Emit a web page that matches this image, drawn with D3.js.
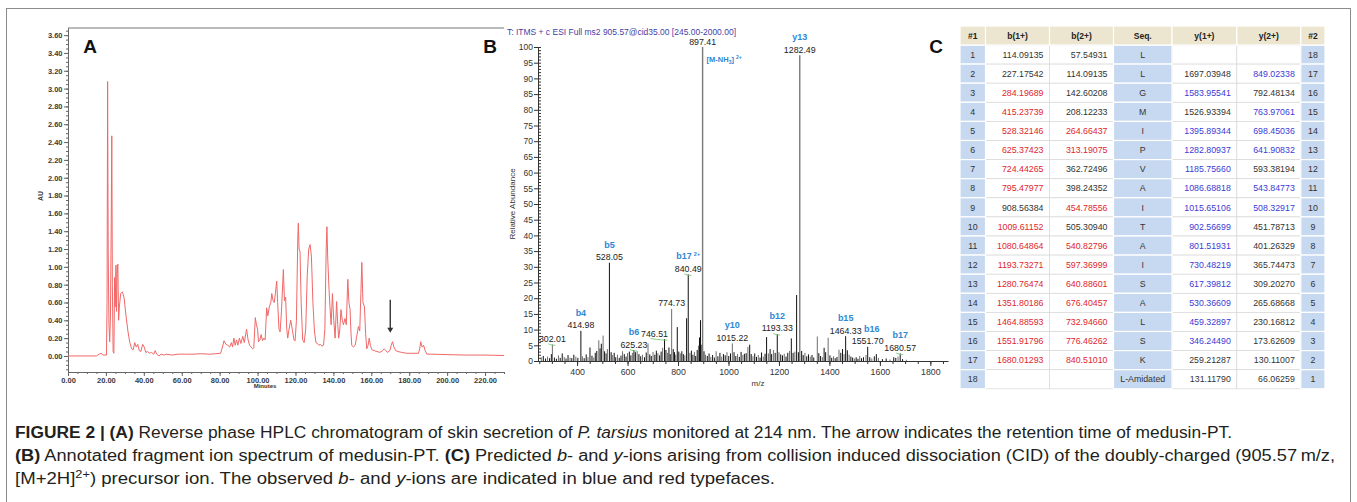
<!DOCTYPE html>
<html>
<head>
<meta charset="utf-8">
<script src="https://cdn.jsdelivr.net/npm/d3@7"></script>
<style>
  html, body { margin: 0; padding: 0; background: #fff; }
  svg { display: block; font-family: "Liberation Sans", Arial, sans-serif; }
</style>
</head>
<body>
<svg id="fig" width="1357" height="502"></svg>
<script>
// ---- Panel A : HPLC chromatogram (minutes, AU) ----
const chromTime = [0, 10, 15, 16.5, 17.5, 18.5, 20.3, 20.6, 20.9, 21.2, 21.6, 22.0, 22.4, 22.8, 23.1, 23.4, 23.8, 24.2,
  24.6, 24.9, 25.3, 25.6, 25.9, 26.3, 26.7, 27.1, 27.8, 28.7, 29.6, 30.6, 31.6, 32.6, 33.6, 34.4, 35.2, 36.0, 36.8,
  37.6, 38.4, 39.4, 40.2, 41.0, 42.0, 43.0, 44.0, 45.2, 46.0, 46.8, 48.0, 49.0, 50.5, 52, 55, 58, 62, 66, 70, 75, 78,
  80.5, 81.5, 82.3, 83.3, 84.3, 85.3, 86.2, 86.8, 87.5, 88.2, 88.9, 89.6, 90.4, 91.2, 92.2, 93.0, 94.2, 95.0, 95.8,
  96.6, 97.4, 98.0, 98.8, 99.4, 100.0, 100.5, 101.2, 101.9, 102.6, 103.3, 104.0, 104.8, 105.4, 106.2, 107.0, 107.5,
  108.2, 108.8, 109.4, 110.1, 110.6, 111.3, 111.9, 112.6, 113.6, 114.2, 114.8, 115.4, 115.9, 116.6, 117.5, 118.3,
  119.2, 119.8, 120.5, 121.2, 121.5, 121.9, 122.4, 123.0, 123.8, 124.6, 125.4, 126.2, 127.0, 127.7, 128.4, 129.2,
  130.0, 130.8, 131.6, 132.4, 133.2, 134.0, 134.8, 135.5, 136.2, 136.6, 137.0, 137.7, 138.2, 138.8, 139.5, 140.2,
  140.9, 141.7, 142.3, 142.8, 143.4, 144.0, 144.7, 145.3, 146.1, 146.8, 147.6, 148.2, 148.8, 149.3, 149.7, 150.5,
  151.5, 152.3, 153.2, 153.9, 154.5, 155.0, 155.6, 156.4, 157.0, 157.6, 158.3, 158.9, 159.5, 160.3, 161.5, 163.0,
  164.5, 166.0, 166.8, 167.6, 168.6, 169.8, 170.5, 171.2, 171.9, 172.9, 174, 176, 178.7, 181, 183, 184.9, 185.5,
  186.1, 186.8, 187.6, 188.4, 189.3, 192, 200, 210, 220, 230];
const chromAU = [0, 0, 0, 0.02, 0.03, 0.01, 0.01, 0.6, 3.08, 1.2, 0.35, 0.16, 0.45, 1.5, 2.47, 0.8, 0.05, 0.03,
  0.88, 0.55, 1.02, 0.5, 0.92, 1.03, 0.4, 0.55, 0.7, 0.72, 0.65, 0.45, 0.28, 0.15, 0.08, 0.07, 0.15, 0.1, 0.13,
  0.06, 0.05, 0.13, 0.1, 0.04, 0.05, 0.03, 0.04, 0.02, 0.06, 0.02, 0.0, 0.02, 0.01, 0.02, 0.01, 0.02, 0.02, 0.02, 0.025, 0.02, 0.025,
  0.03, 0.1, 0.17, 0.13, 0.12, 0.1, 0.15, 0.1, 0.2, 0.12, 0.18, 0.12, 0.2, 0.14, 0.22, 0.15, 0.3, 0.18, 0.12,
  0.1, 0.08, 0.09, 0.43, 0.35, 0.3, 0.16, 0.18, 0.24, 0.17, 0.2, 0.18, 0.54, 0.45, 0.55, 0.6, 0.7,
  0.62, 0.6, 0.7, 0.84, 0.6, 0.3, 0.27, 0.5, 0.97, 0.62, 0.66, 0.3, 0.2, 0.3, 0.4, 0.3,
  0.18, 0.17, 0.4, 1.3, 1.49, 1.2, 1.17, 0.6, 0.18, 0.15, 0.3, 0.9, 1.2, 1.25, 1.12, 0.6,
  0.28, 0.15, 0.14, 0.12, 0.13, 0.11, 0.12, 0.3, 1.2, 1.45, 1.1, 0.75, 0.55, 0.35, 0.7, 0.4,
  0.2, 0.61, 0.35, 0.2, 0.3, 0.52, 0.4, 0.35, 0.42, 0.35, 0.86, 0.6, 0.52, 0.25, 0.12, 0.1,
  0.12, 0.22, 0.33, 0.28, 0.7, 1.05, 0.6, 0.55, 0.25, 0.08, 0.12, 0.2, 0.12, 0.07, 0.06, 0.05,
  0.04, 0.06, 0.08, 0.06, 0.04, 0.06, 0.12, 0.16, 0.1, 0.06, 0.05, 0.04, 0.03, 0.03, 0.03, 0.03, 0.08,
  0.16, 0.1, 0.12, 0.06, 0.02, 0.02, 0.015, 0.01, 0.01, 0.005];
const chromYTicks = d3.range(0, 3.601, 0.2);
const chromXTicks = d3.range(0, 220.1, 20);
const arrowTime = 170, arrowFrom = 0.63, arrowTo = 0.26;

// ---- Panel B : MS/MS spectrum (m/z, relative abundance) ----
const peakMz = [258, 266, 275, 283, 291, 298, 302.01, 310, 318, 326, 333, 341, 349, 356, 364, 372, 379, 387, 395, 403,
  414.98, 421, 428, 436, 443, 451, 459, 466, 472, 478, 486, 491, 496, 503, 509, 515, 520, 528.05, 535, 541, 547, 553,
  560, 567, 574, 580, 587, 594, 600, 607, 613, 619, 625.23, 631, 638, 645, 652, 659, 667, 674, 681, 688, 694, 701, 708,
  714, 720, 727, 733, 739, 746.51, 752, 758, 764, 769, 774.73, 781, 786, 791, 797, 803, 809, 815, 821, 827, 834, 840.49,
  847, 853, 859, 865, 870, 876, 881, 885, 889, 893, 897.41, 903, 909, 916, 923, 930, 937, 944, 951, 958, 966, 973, 980,
  987, 994, 1001, 1008, 1015.22, 1022, 1029, 1036, 1043, 1050, 1057, 1063, 1070, 1077, 1084, 1090, 1097, 1104, 1111,
  1118, 1125, 1131, 1138, 1145, 1151, 1158, 1165, 1171, 1178, 1185, 1193.33, 1200, 1207, 1214, 1221, 1228, 1235, 1242,
  1249, 1256, 1263, 1270, 1277, 1282.49, 1290, 1296, 1303, 1310, 1317, 1324, 1331, 1338, 1352, 1358, 1365, 1372, 1379,
  1385, 1395, 1402, 1409, 1416, 1423, 1430, 1438, 1445, 1452, 1458, 1464.33, 1471, 1478, 1485, 1492, 1499, 1506, 1513,
  1520, 1527, 1535, 1545, 1551.70, 1560, 1568, 1578, 1586, 1594, 1610, 1625, 1640, 1655, 1663, 1672, 1680.57, 1690, 1705];
const peakInt = [1.2, 1.6, 0.8, 1.4, 0.9, 2.2, 5.3, 1.1, 0.7, 1.8, 1.0, 2.4, 1.3, 0.8, 1.9, 1.1, 0.9, 2.0, 1.4, 1.0,
  9.6, 1.5, 0.9, 2.1, 1.2, 4.3, 1.7, 1.1, 2.6, 3.2, 6.6, 4.0, 5.5, 8.1, 3.1, 2.4, 3.8, 31.3, 2.8, 1.9, 2.6, 1.2,
  2.0, 1.0, 1.7, 3.1, 2.2, 1.4, 2.5, 3.0, 1.8, 2.6, 3.5, 2.8, 3.1, 2.2, 1.5, 2.0, 1.2, 2.7, 5.6, 2.1, 1.6, 2.9, 2.0,
  3.3, 2.5, 1.8, 3.0, 4.2, 7.0, 3.5, 2.6, 4.3, 2.2, 16.6, 3.8, 2.8, 2.0, 10.8, 3.0, 2.4, 3.1, 2.2, 1.8, 13.6, 27.6,
  2.6, 3.3, 2.0, 2.9, 1.6, 3.5, 4.9, 7.5, 13.0, 5.2, 100, 3.1, 2.0, 1.6, 2.4, 1.3, 1.9, 1.1, 3.1, 1.5, 2.6, 1.4, 2.2,
  1.8, 2.8, 1.6, 2.4, 5.6, 2.8, 1.6, 2.2, 1.3, 2.9, 1.9, 2.3, 2.5, 4.5, 5.2, 2.2, 1.5, 2.4, 1.3,
  1.9, 1.1, 2.7, 1.4, 2.3, 7.6, 2.4, 3.8, 2.2, 3.5, 2.6, 8.6, 2.8, 2.1, 1.8, 2.3, 1.4, 2.6, 3.2,
  7.2, 2.6, 3.0, 21.0, 2.8, 97.4, 3.2, 1.9, 2.6, 1.5, 2.1, 1.4, 1.9, 1.1, 7.8, 2.5, 1.6, 1.2, 4.2,
  2.8, 7.4, 1.8, 1.0, 1.5, 0.9, 1.3, 3.6, 2.6, 3.8, 2.2, 7.9, 3.4, 2.0, 1.4, 1.1, 0.8, 1.2, 0.7,
  1.6, 0.9, 1.2, 1.9, 4.5, 1.2, 0.8, 1.5, 2.2, 1.0, 0.6, 0.8, 0.5, 1.2, 1.0, 1.4, 2.4, 0.6, 0.4];
const labelMz   = [302.01, 414.98, 528.05, 625.23, 746.51, 774.73, 840.49, 897.41, 1015.22, 1193.33, 1282.49, 1464.33, 1551.70, 1680.57];
const labelText = ["302.01", "414.98", "528.05", "625.23", "746.51", "774.73", "840.49", "897.41", "1015.22", "1193.33", "1282.49", "1464.33", "1551.70", "1680.57"];
const labelIon  = ["", "b4", "b5", "b6", "", "", "b17", "", "y10", "b12", "y13", "b15", "b16", "b17"];
const labelIonSup = ["", "", "", "", "", "", "2+", "", "", "", "", "", "", ""];
const specYTicks = d3.range(0, 100.1, 5);
const specXTicks = d3.range(400, 1800.1, 200);

// ---- Panel C : predicted fragment ions ----
const tableHead = ["#1", "b(1+)", "b(2+)", "Seq.", "y(1+)", "y(2+)", "#2"];
const bSingle = ["114.09135", "227.17542", "284.19689", "415.23739", "528.32146", "625.37423", "724.44265", "795.47977",
  "908.56384", "1009.61152", "1080.64864", "1193.73271", "1280.76474", "1351.80186", "1464.88593", "1551.91796", "1680.01293", ""];
const bDouble = ["57.54931", "114.09135", "142.60208", "208.12233", "264.66437", "313.19075", "362.72496", "398.24352",
  "454.78556", "505.30940", "540.82796", "597.36999", "640.88601", "676.40457", "732.94660", "776.46262", "840.51010", ""];
const sequence = ["L", "L", "G", "M", "I", "P", "V", "A", "I", "T", "A", "I", "S", "A", "L", "S", "K", "L-Amidated"];
const ySingle = ["", "1697.03948", "1583.95541", "1526.93394", "1395.89344", "1282.80937", "1185.75660", "1086.68818",
  "1015.65106", "902.56699", "801.51931", "730.48219", "617.39812", "530.36609", "459.32897", "346.24490", "259.21287", "131.11790"];
const yDouble = ["", "849.02338", "792.48134", "763.97061", "698.45036", "641.90832", "593.38194", "543.84773",
  "508.32917", "451.78713", "401.26329", "365.74473", "309.20270", "265.68668", "230.16812", "173.62609", "130.11007", "66.06259"];
// rows (1-based) whose ion was observed
const bSingleSeen = [3, 4, 5, 6, 7, 8, 10, 11, 12, 13, 14, 15, 16, 17];
const bDoubleSeen = [5, 6, 9, 11, 12, 13, 14, 15, 16, 17];
const ySingleSeen = [3, 5, 6, 7, 8, 9, 10, 11, 12, 13, 14, 15, 16];
const yDoubleSeen = [2, 4, 5, 6, 8, 9];

const svg = d3.select("#fig");
const font = "'Liberation Sans', Arial, sans-serif";

// cadre
svg.append("rect").attr("x", 6.5).attr("y", 8.5).attr("width", 1344).attr("height", 520)
  .attr("fill", "none").attr("stroke", "#8c8c8c").attr("stroke-width", 1);

// ================= A =================
const xA = d3.scaleLinear().domain([0, 230]).range([68, 504]);
const yA = d3.scaleLinear().domain([-0.18, 3.68]).range([372, 28]);
const gA = svg.append("g");

gA.append("line").attr("x1", 68).attr("x2", 504).attr("y1", 28).attr("y2", 28).attr("stroke", "#777");

gA.append("g").attr("transform", "translate(68,0)")
  .call(d3.axisLeft(yA).tickValues(d3.range(-0.15, 3.67, 0.05)).tickSize(2).tickSizeOuter(0).tickFormat(""))
  .call(g => g.selectAll("line,path").attr("stroke", "#666"));
gA.append("g").attr("transform", "translate(68,0)")
  .call(d3.axisLeft(yA).tickValues(chromYTicks).tickFormat(d3.format(".2f")).tickSize(4).tickSizeOuter(0).tickPadding(1.5))
  .call(g => g.selectAll("line,path").attr("stroke", "#666"))
  .call(g => g.selectAll("text").attr("font-family", font).attr("font-size", 7.5).attr("font-weight", "bold").attr("fill", "#3a3a3a"));

gA.append("g").attr("transform", "translate(0,372)")
  .call(d3.axisBottom(xA).tickValues(d3.range(0, 230.1, 5)).tickSize(2).tickSizeOuter(0).tickFormat(""))
  .call(g => g.selectAll("line,path").attr("stroke", "#666"));
gA.append("g").attr("transform", "translate(0,372)")
  .call(d3.axisBottom(xA).tickValues(chromXTicks).tickFormat(d3.format(".2f")).tickSize(4).tickSizeOuter(0).tickPadding(2))
  .call(g => g.selectAll("line,path").attr("stroke", "#666"))
  .call(g => g.selectAll("text").attr("font-family", font).attr("font-size", 7.5).attr("font-weight", "bold").attr("fill", "#3a3a3a"));

gA.append("text").attr("x", 265).attr("y", 388).attr("text-anchor", "middle")
  .attr("font-family", font).attr("font-size", 6).attr("font-weight", "bold").attr("fill", "#333").text("Minutes");
gA.append("text").attr("transform", "translate(43,196) rotate(-90)").attr("text-anchor", "middle")
  .attr("font-family", font).attr("font-size", 7).attr("font-weight", "bold").attr("fill", "#333").text("AU");

const chromLine = d3.line().x(d => xA(d[0])).y(d => yA(d[1]));
gA.append("path").datum(chromTime.map((t, i) => [t, chromAU[i]]))
  .attr("d", chromLine).attr("fill", "none").attr("stroke", "#f06868").attr("stroke-width", 1)
  .attr("stroke-linejoin", "round");

// fleche
const ax = xA(arrowTime);
gA.append("line").attr("x1", ax).attr("x2", ax).attr("y1", yA(arrowFrom)).attr("y2", yA(arrowTo) - 4)
  .attr("stroke", "#333").attr("stroke-width", 1.4);
gA.append("path").attr("d", `M${ax - 3},${yA(arrowTo) - 5}L${ax + 3},${yA(arrowTo) - 5}L${ax},${yA(arrowTo)}Z`).attr("fill", "#333");

// lettres de panneaux
[["A", 90], ["B", 490], ["C", 936]].forEach(([t, x]) => {
  svg.append("text").attr("x", x).attr("y", 53).attr("text-anchor", "middle")
    .attr("font-family", font).attr("font-size", 19).attr("font-weight", "bold").attr("fill", "#111").text(t);
});

// ================= B =================
const xB = d3.scaleLinear().domain([245, 1870]).range([538, 948]);
const yB = d3.scaleLinear().domain([0, 100]).range([361, 47]);
const gB = svg.append("g");

gB.append("text").attr("x", 507).attr("y", 35).attr("font-family", font).attr("font-size", 8.5)
  .attr("fill", "#3f3fa6").attr("textLength", 229).attr("lengthAdjust", "spacingAndGlyphs")
  .text("T: ITMS + c ESI Full ms2 905.57@cid35.00 [245.00-2000.00]");

gB.append("g").attr("transform", "translate(538,0)")
  .call(d3.axisRight(yB).tickValues(d3.range(0, 100.1, 1)).tickSize(3).tickSizeOuter(0).tickFormat(""))
  .call(g => g.selectAll("line,path").attr("stroke", "#333"));
gB.append("g").attr("transform", "translate(538,0)")
  .call(d3.axisLeft(yB).tickValues(specYTicks).tickSize(4).tickSizeOuter(0).tickPadding(1))
  .call(g => g.select(".domain").remove())
  .call(g => g.selectAll("line").attr("stroke", "#333"))
  .call(g => g.selectAll("text").attr("font-family", font).attr("font-size", 8.5).attr("fill", "#333"));

gB.append("g").attr("transform", "translate(0,361)")
  .call(d3.axisBottom(xB).tickValues(d3.range(250, 1870, 50)).tickSize(3).tickSizeOuter(0).tickFormat(""))
  .call(g => g.selectAll("line,path").attr("stroke", "#333"));
gB.append("g").attr("transform", "translate(0,361)")
  .call(d3.axisBottom(xB).tickValues(specXTicks).tickFormat(d3.format("d")).tickSize(5).tickSizeOuter(0).tickPadding(3))
  .call(g => g.select(".domain").remove())
  .call(g => g.selectAll("line").attr("stroke", "#333"))
  .call(g => g.selectAll("text").attr("font-family", font).attr("font-size", 8.8).attr("fill", "#333"));

gB.append("text").attr("x", 758).attr("y", 386).attr("text-anchor", "middle")
  .attr("font-family", font).attr("font-size", 8).attr("fill", "#333").text("m/z");
gB.append("text").attr("transform", "translate(515,204) rotate(-90)").attr("text-anchor", "middle")
  .attr("font-family", font).attr("font-size", 8).attr("fill", "#333").text("Relative Abundance");

const peaks = peakMz.map((m, i) => ({ mz: m, h: peakInt[i], i }));
gB.selectAll("line.peak").data(peaks).join("line").attr("class", "peak")
  .attr("x1", d => xB(d.mz)).attr("x2", d => xB(d.mz))
  .attr("y1", yB(0)).attr("y2", d => yB(d.h))
  .attr("stroke", d => d.h > 50 ? "#7a7a7a" : (d.i % 3 === 0 ? "#6e6e6e" : "#111"))
  .attr("stroke-width", d => d.h > 50 ? 1.4 : 1);

const heightOf = m => peakInt[peakMz.indexOf(m)];
const nudge = { "746.51": -10 };
const ionNudge = { "b16": 4 };
const greenTicks = ["302.01", "625.23", "746.51", "840.49", "1193.33", "1680.57"];
labelMz.forEach((m, i) => {
  const px = xB(m), top = yB(heightOf(m));
  const lx = px + (nudge[labelText[i]] || 0);
  const base = top - 2.5;
  gB.append("text").attr("x", lx).attr("y", base).attr("text-anchor", "middle")
    .attr("font-family", font).attr("font-size", 8.8).attr("fill", "#222").text(labelText[i]);
  if (greenTicks.includes(labelText[i])) {
    gB.append("path").attr("d", `M${lx - 4},${base + 2}Q${px},${base + 4} ${px + 3},${top + 1}`)
      .attr("fill", "none").attr("stroke", "#79c879").attr("stroke-width", 0.9);
  }
  if (labelIon[i]) {
    const t = gB.append("text").attr("x", lx + (ionNudge[labelIon[i]] || 0)).attr("y", base - 12.5).attr("text-anchor", "middle")
      .attr("font-family", font).attr("font-size", 9).attr("font-weight", "bold").attr("fill", "#2f87d4");
    t.append("tspan").text(labelIon[i]);
    if (labelIonSup[i]) t.append("tspan").attr("dx", 2).attr("dy", -3).attr("font-size", 5.5).text(labelIonSup[i]);
  }
});
// [M-NH3]2+
const mn = gB.append("text").attr("x", xB(897.41) + 4).attr("y", 62)
  .attr("font-family", font).attr("font-size", 7.5).attr("font-weight", "bold").attr("fill", "#2f87d4");
mn.append("tspan").text("[M-NH");
mn.append("tspan").attr("dy", 2).attr("font-size", 5).text("3");
mn.append("tspan").attr("dy", -2).text("]");
mn.append("tspan").attr("dx", 2).attr("dy", -3).attr("font-size", 5).text("2+");

// ================= C =================
const colX = [960, 985.5, 1049.5, 1113.5, 1172, 1236.8, 1300.8, 1325];
const headTop = 26, rowTop = 45, rowH = 19.1;
const gC = svg.append("g");
const blueCol = [0, 3, 6];
const cols = [
  { vals: d3.range(1, 19).map(String), seen: [], anchor: "middle" },
  { vals: bSingle, seen: bSingleSeen, color: "#e0262c", anchor: "end" },
  { vals: bDouble, seen: bDoubleSeen, color: "#e0262c", anchor: "end" },
  { vals: sequence, seen: [], anchor: "middle" },
  { vals: ySingle, seen: ySingleSeen, color: "#3b3bd6", anchor: "end" },
  { vals: yDouble, seen: yDoubleSeen, color: "#3b3bd6", anchor: "end" },
  { vals: d3.range(18, 0, -1).map(String), seen: [], anchor: "middle" }
];
const cells = [];
cols.forEach((c, ci) => c.vals.forEach((v, ri) => cells.push({ ci, ri, v, c })));

// white cells first, then the coloured ones on top
gC.selectAll("rect.w").data(cells.filter(d => !blueCol.includes(d.ci))).join("rect").attr("class", "w")
  .attr("x", d => colX[d.ci]).attr("y", d => rowTop + d.ri * rowH)
  .attr("width", d => colX[d.ci + 1] - colX[d.ci]).attr("height", rowH)
  .attr("fill", "#fff").attr("stroke", "#d8d8d8").attr("stroke-width", 0.7);
gC.selectAll("rect.b").data(cells.filter(d => blueCol.includes(d.ci))).join("rect").attr("class", "b")
  .attr("x", d => colX[d.ci]).attr("y", d => rowTop + d.ri * rowH)
  .attr("width", d => colX[d.ci + 1] - colX[d.ci]).attr("height", rowH)
  .attr("fill", "#c6d9f0").attr("stroke", "#fff").attr("stroke-width", 1.2);
gC.selectAll("rect.h").data(tableHead).join("rect").attr("class", "h")
  .attr("x", (d, i) => colX[i]).attr("y", headTop).attr("width", (d, i) => colX[i + 1] - colX[i]).attr("height", rowTop - headTop)
  .attr("fill", "#ece5cf").attr("stroke", "#fff").attr("stroke-width", 1.2);

gC.selectAll("text.h").data(tableHead).join("text").attr("class", "h")
  .attr("x", (d, i) => (colX[i] + colX[i + 1]) / 2).attr("y", rowTop - 6.5).attr("text-anchor", "middle")
  .attr("font-family", font).attr("font-size", 8.5).attr("font-weight", "bold").attr("fill", "#222").text(d => d);
gC.selectAll("text.v").data(cells).join("text").attr("class", "v")
  .attr("x", d => d.c.anchor === "end" ? colX[d.ci + 1] - 6 : (colX[d.ci] + colX[d.ci + 1]) / 2)
  .attr("y", d => rowTop + d.ri * rowH + rowH / 2 + 3.2)
  .attr("text-anchor", d => d.c.anchor)
  .attr("font-family", font).attr("font-size", 8.8)
  .attr("fill", d => d.c.seen.includes(d.ri + 1) ? d.c.color : "#333")
  .text(d => d.v);

// ================= legende =================
const cap = svg.append("g").attr("font-family", font).attr("font-size", 16).attr("fill", "#231f20");
function capLine(y, len, parts) {
  const t = cap.append("text").attr("x", 15).attr("y", y).attr("textLength", len).attr("lengthAdjust", "spacingAndGlyphs");
  parts.forEach(p => {
    const s = t.append("tspan").text(p.t);
    if (p.b) s.attr("font-weight", "bold");
    if (p.i) s.attr("font-style", "italic");
    if (p.sup) s.attr("dy", -6).attr("font-size", 11);
    if (p.down) s.attr("dy", 6);
  });
}
capLine(438, 1217, [
  { t: "FIGURE 2 | (A)", b: 1 }, { t: " Reverse phase HPLC chromatogram of skin secretion of " }, { t: "P. tarsius", i: 1 },
  { t: " monitored at 214 nm. The arrow indicates the retention time of medusin-PT." }]);
capLine(461, 1320, [
  { t: "(B)", b: 1 }, { t: " Annotated fragment ion spectrum of medusin-PT. " }, { t: "(C)", b: 1 }, { t: " Predicted " },
  { t: "b", i: 1 }, { t: "- and " }, { t: "y", i: 1 },
  { t: "-ions arising from collision induced dissociation (CID) of the doubly-charged (905.57\u2009m/z," }]);
capLine(484, 760, [
  { t: "[M+2H]" }, { t: "2+", sup: 1 }, { t: ") precursor ion. The observed ", down: 1 }, { t: "b", i: 1 }, { t: "- and " },
  { t: "y", i: 1 }, { t: "-ions are indicated in blue and red typefaces." }]);
</script>
</body>
</html>
